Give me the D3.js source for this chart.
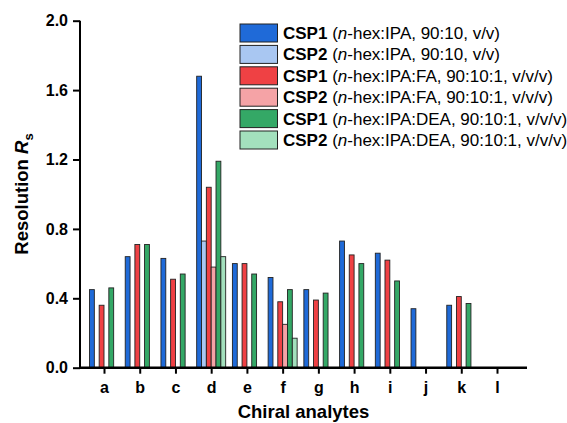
<!DOCTYPE html>
<html>
  <head>
    <script src="https://d3js.org/d3.v7.min.js" charset="utf-8"></script>
    <style>
      body { margin: 0; background: #fff; }
      text { font-family: "Liberation Sans", Arial, sans-serif; }
    </style>
  </head>
  <body>
    <svg id="chart" width="567" height="423"></svg>

    <script>
      // chiral analytes on the x axis
      var analytes = ["a", "b", "c", "d", "e", "f", "g", "h", "i", "j", "k", "l"];

      // resolution values, null where no bar is drawn
      var csp1Hex = [0.45, 0.64, 0.63, 1.68, 0.60, 0.52, 0.45, 0.73, 0.66, 0.34, 0.36, null];
      var csp2Hex = [null, null, null, 0.73, null, null, null, null, null, null, null, null];
      var csp1FA  = [0.36, 0.71, 0.51, 1.04, 0.60, 0.38, 0.39, 0.65, 0.62, null, 0.41, null];
      var csp2FA  = [null, null, null, 0.58, null, 0.25, null, null, null, null, null, null];
      var csp1DEA = [0.46, 0.71, 0.54, 1.19, 0.54, 0.45, 0.43, 0.60, 0.50, null, 0.37, null];
      var csp2DEA = [null, null, null, 0.64, null, 0.17, null, null, null, null, null, null];

      var seriesNames = ["CSP1", "CSP2", "CSP1", "CSP2", "CSP1", "CSP2"];
      var seriesPhases = ["n-hex:IPA, 90:10, v/v", "n-hex:IPA, 90:10, v/v",
                          "n-hex:IPA:FA, 90:10:1, v/v/v", "n-hex:IPA:FA, 90:10:1, v/v/v",
                          "n-hex:IPA:DEA, 90:10:1, v/v/v", "n-hex:IPA:DEA, 90:10:1, v/v/v"];
      var yTicks = [0, 0.4, 0.8, 1.2, 1.6, 2.0];

      var colors = ["#1f6ad8", "#a9c7f2", "#ef4144", "#f5a3a6", "#34a866", "#a3e0bd"];
      var series = [csp1Hex, csp2Hex, csp1FA, csp2FA, csp1DEA, csp2DEA];

      var svg = d3.select("#chart");
      var x0 = 80, x1 = 527;

      var y = d3.scaleLinear().domain([0, 2]).range([367.7, 20.7]);
      var x = d3.scalePoint().domain(analytes).range([104, 497]);
      var xs = d3.scaleBand().domain(d3.range(6)).range([-14.5, 14.5]).padding(0);

      // bars
      series.forEach(function(vals, si) {
        svg.append("g").selectAll("rect")
          .data(vals.map(function(v, i) { return {k: analytes[i], v: v}; })
                    .filter(function(d) { return d.v != null; }))
          .join("rect")
          .attr("x", function(d) { return x(d.k) + xs(si); })
          .attr("y", function(d) { return y(d.v); })
          .attr("width", xs.bandwidth())
          .attr("height", function(d) { return y(0) - y(d.v); })
          .attr("fill", colors[si])
          .attr("stroke", "#222")
          .attr("stroke-width", 0.9);
      });

      // y axis
      var yAxis = svg.append("g").attr("transform", "translate(" + x0 + ",0)")
        .call(d3.axisLeft(y).tickValues(yTicks).tickFormat(d3.format(".1f")).tickSize(7).tickPadding(5));
      yAxis.select(".domain").attr("stroke", "#000").attr("stroke-width", 2)
        .attr("d", "M0," + y(2) + "V" + (y(0) + 1));
      yAxis.selectAll(".tick line").attr("stroke", "#000").attr("stroke-width", 2);
      yAxis.selectAll(".tick text").attr("font-size", 16).attr("font-weight", "bold")
        .attr("fill", "#000").style("font-family", "Liberation Sans, Arial, sans-serif");

      // x axis
      var xAxis = svg.append("g").attr("transform", "translate(0," + y(0) + ")")
        .call(d3.axisBottom(x).tickSize(6).tickPadding(8));
      xAxis.select(".domain").attr("stroke", "#000").attr("stroke-width", 2.4)
        .attr("d", "M" + (x0 - 1) + ",0H" + x1);
      xAxis.selectAll(".tick line").attr("stroke", "#000").attr("stroke-width", 2);
      xAxis.selectAll(".tick text").attr("font-size", 16).attr("font-weight", "bold")
        .attr("fill", "#000").style("font-family", "Liberation Sans, Arial, sans-serif");

      // axis titles
      var yt = svg.append("text")
        .attr("transform", "translate(28,194) rotate(-90)")
        .attr("text-anchor", "middle")
        .attr("font-size", 18.5).attr("font-weight", "bold");
      yt.append("tspan").text("Resolution ");
      yt.append("tspan").attr("font-style", "italic").text("R");
      yt.append("tspan").attr("font-size", 13).attr("dy", 5).text("s");

      svg.append("text")
        .attr("x", (x0 + x1) / 2).attr("y", 417.5)
        .attr("text-anchor", "middle")
        .attr("font-size", 18.5).attr("font-weight", "bold")
        .text("Chiral analytes");

      // legend
      var leg = svg.append("g").selectAll("g")
        .data(d3.range(6))
        .join("g")
        .attr("transform", function(i) { return "translate(240," + (24 + i * 21.4) + ")"; });
      leg.append("rect")
        .attr("width", 37.5).attr("height", 18)
        .attr("fill", function(i) { return colors[i]; })
        .attr("stroke", "#222").attr("stroke-width", 1);
      var lt = leg.append("text").attr("x", 43).attr("y", 15).attr("font-size", 17);
      lt.append("tspan").attr("font-weight", "bold").text(function(i) { return seriesNames[i]; });
      lt.append("tspan").text(" (");
      lt.append("tspan").attr("font-style", "italic").text("n");
      lt.append("tspan").text(function(i) { return seriesPhases[i].slice(1) + ")"; });
    </script>
  </body>
</html>
